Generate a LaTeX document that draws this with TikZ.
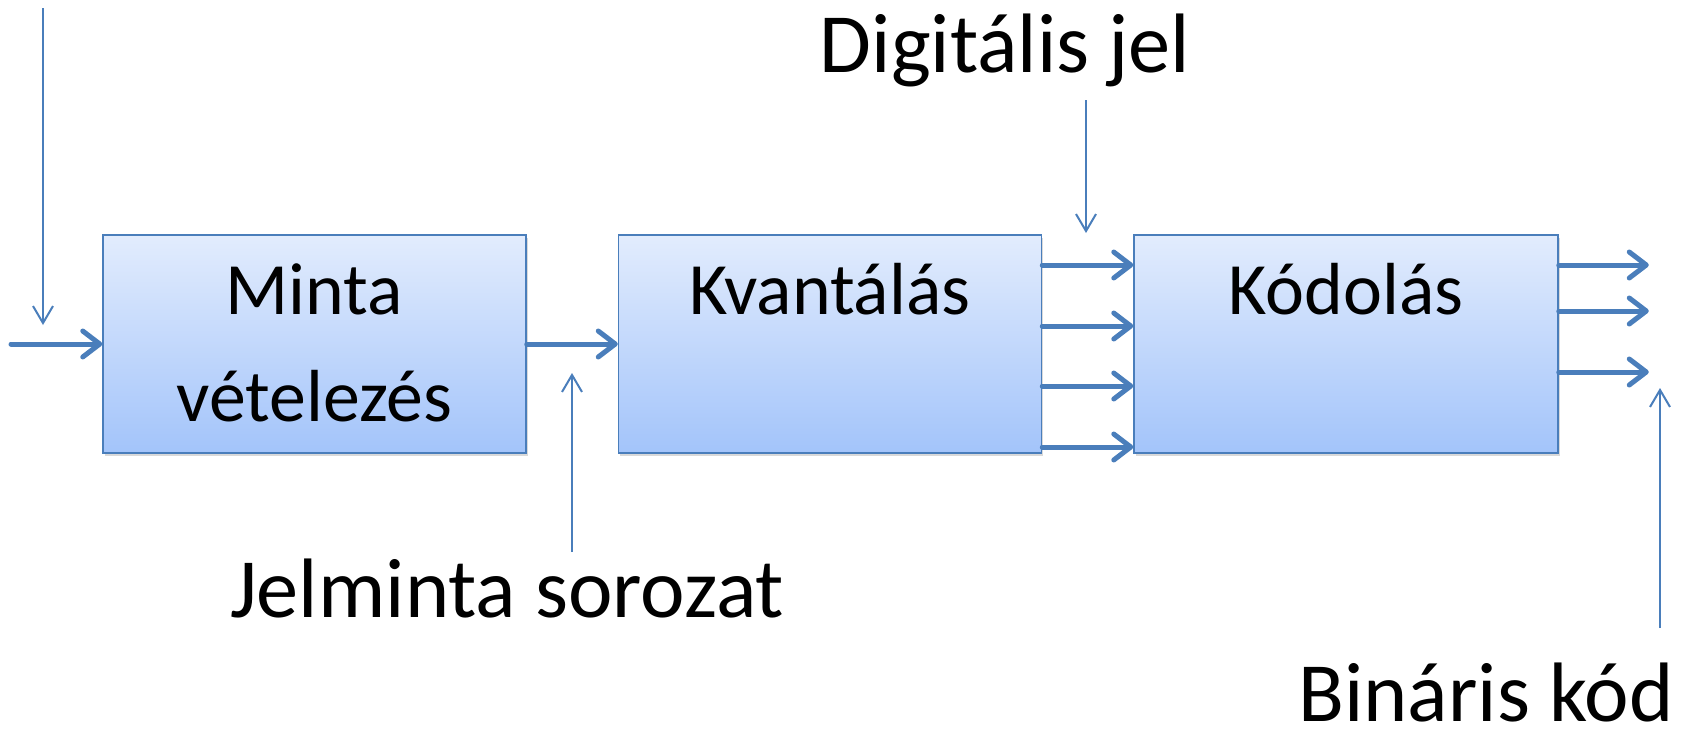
\documentclass[tikz,border=0pt]{standalone}
\usepackage{fontspec}
\setmainfont{Carlito}
\usetikzlibrary{positioning}
\usetikzlibrary{arrows.meta}
\usetikzlibrary{shadows}
\definecolor{sigblue}{RGB}{74,126,187}
\definecolor{blocktop}{RGB}{226,236,253}
\definecolor{blockbottom}{RGB}{163,196,250}
\tikzset{
	block/.style={draw=sigblue, line width=0.03cm, top color=blocktop, bottom color=blockbottom,
		minimum width=8.46cm, minimum height=4.36cm, inner sep=0pt,
		drop shadow={shadow xshift=0.03cm, shadow yshift=-0.05cm, opacity=0.3}},
	txt/.style={font=\fontsize{42}{50}\selectfont, anchor=base, inner sep=0pt},
	bigtxt/.style={font=\fontsize{48}{56}\selectfont, anchor=base, inner sep=0pt},
	flow/.style={sigblue, line width=0.1cm, line cap=round, -{Straight Barb[length=0.34cm, width=0.52cm, round]}},
	pointer/.style={sigblue, line width=0.04cm, -{Straight Barb[length=0.34cm, width=0.4cm]}}
}
\begin{document}
\begin{tikzpicture}
	% canvas 1683 x 736 px, 1 px = 0.02 cm
	\useasboundingbox (0,0) rectangle (33.66,-14.72);
	
	% blocks
	\node[block] (minta) at (6.29,-6.88) {};
	\node[block, right=1.82cm of minta] (kvant) {};
	\node[block, right=1.82cm of kvant, minimum width=8.48cm] (kodol) {};
	
	% block texts
	\node[txt] (mintatxt) at ([yshift=-1.6cm]minta.north) {Minta};
	\node[txt] (veteltxt) at ([yshift=-3.74cm]minta.north) {vételezés};
	\node[txt] (kvanttxt) at ([yshift=-1.6cm]kvant.north) {Kvantálás};
	\node[txt] (kodoltxt) at ([yshift=-1.6cm]kodol.north) {Kódolás};
	
	% free texts
	\node[bigtxt] (digit) at (20.1,-1.44) {Digitális jel};
	\node[bigtxt] (jelminta) at (10.14,-12.34) {Jelminta sorozat};
	\node[bigtxt] (binaris) at (29.72,-14.42) {Bináris kód};
	
	% signal path
	\coordinate (in) at (0.22,-6.88);
	\draw[flow] (in) -- (minta.west);
	\draw[flow] (minta) -- (kvant);
	
	% quantised levels
	\draw[flow] ([yshift=1.58cm]kvant.east) -- ([yshift=1.58cm]kodol.west);
	\draw[flow] ([yshift=0.36cm]kvant.east) -- ([yshift=0.36cm]kodol.west);
	\draw[flow] ([yshift=-0.84cm]kvant.east) -- ([yshift=-0.84cm]kodol.west);
	\draw[flow] ([yshift=-2.06cm]kvant.east) -- ([yshift=-2.06cm]kodol.west);
	
	% code bits
	\draw[flow] ([yshift=1.58cm]kodol.east) -- ++(1.8,0);
	\draw[flow] ([yshift=0.66cm]kodol.east) -- ++(1.8,0);
	\draw[flow] ([yshift=-0.56cm]kodol.east) -- ++(1.8,0);
	
	% pointers
	\coordinate (analogtail) at (0.86,-0.16);
	\coordinate (analogtip) at (0.86,-6.5);
	\draw[pointer] (analogtail) -- (analogtip);
	\coordinate (digittail) at (21.72,-2.0);
	\coordinate (digittip) at (21.72,-4.66);
	\draw[pointer] (digittail) -- (digittip);
	\coordinate (jeltail) at (11.44,-11.04);
	\coordinate (jeltip) at (11.44,-7.46);
	\draw[pointer] (jeltail) -- (jeltip);
	\coordinate (bintail) at (33.2,-12.56);
	\coordinate (bintip) at (33.2,-7.76);
	\draw[pointer] (bintail) -- (bintip);
\end{tikzpicture}
\end{document}
